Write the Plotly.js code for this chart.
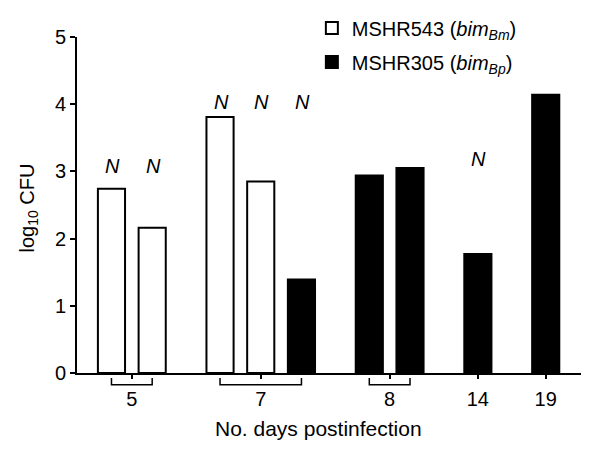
<!DOCTYPE html>
<html>
<head>
<meta charset="utf-8">
<script src="https://cdn.plot.ly/plotly-3.0.1.min.js"></script>
<style>html,body{margin:0;padding:0;background:#fff;}#chart{width:600px;height:462px;}</style>
</head>
<body>
<div id="chart"></div>
<script>
// ---- data ----
const barDay    = ['5', '5', '7', '7', '7', '8', '8', '14', '19'];
const barStrain = ['MSHR543', 'MSHR543', 'MSHR543', 'MSHR543', 'MSHR305', 'MSHR305', 'MSHR305', 'MSHR305', 'MSHR305'];
const log10CFU  = [2.74, 2.16, 3.81, 2.85, 1.39, 2.94, 3.05, 1.77, 4.14];
const nLabelY   = [3.08, 3.08, 4.04, 4.04, 4.04, null, null, 3.18, null]; // italic "N" above these bars
const dayLabels = ['5', '7', '8', '14', '19'];
const strainNames = {
  MSHR543: 'MSHR543 (<i>bim<sub>Bm</sub></i>)',
  MSHR305: 'MSHR305 (<i>bim<sub>Bp</sub></i>)'
};

// ---- layout of bar slots: bars within a day sit closer than bars of different days ----
const WITHIN = 3, BETWEEN = 5, BAR_W = 2;
const pos = [];
barDay.forEach((d, i) => {
  if (i === 0) pos.push(0);
  else pos.push(pos[i - 1] + (d === barDay[i - 1] ? WITHIN : BETWEEN));
});
const groupCenters = dayLabels.map(d => {
  const p = pos.filter((_, i) => barDay[i] === d);
  return { d, min: Math.min(...p), max: Math.max(...p), mid: (Math.min(...p) + Math.max(...p)) / 2, n: p.length };
});

function strainTrace(name, fill) {
  const idx = barStrain.map((s, i) => s === name ? i : -1).filter(i => i >= 0);
  return {
    type: 'bar',
    name: strainNames[name],
    legendgroup: name,
    x: idx.map(i => pos[i]),
    y: idx.map(i => log10CFU[i]),
    width: BAR_W,
    marker: { color: fill, line: { color: '#000', width: 2 } },
    hoverinfo: 'skip'
  };
}
const traces = [strainTrace('MSHR543', '#ffffff'), strainTrace('MSHR305', '#000000')];

const FONT = 'Liberation Sans, Arial, Helvetica, sans-serif';

const shapes = groupCenters.filter(g => g.n > 1).map(g => ({
  type: 'path', xref: 'x', yref: 'paper',
  path: `M ${g.min},-0.015 L ${g.min},-0.035 L ${g.max},-0.035 L ${g.max},-0.015`,
  line: { color: '#000', width: 1.5 }
}));

const annotations = [];
nLabelY.forEach((v, i) => {
  if (v !== null) annotations.push({
    x: pos[i], y: v, xref: 'x', yref: 'y', text: '<i>N</i>', showarrow: false,
    xshift: 1, font: { family: FONT, size: 20, color: '#000' }
  });
});
annotations.push({
  text: 'No. days postinfection', xref: 'paper', yref: 'paper', x: 0.48, y: -0.166,
  xanchor: 'center', yanchor: 'middle', showarrow: false, font: { family: FONT, size: 21, color: '#000' }
});
annotations.push({
  text: 'log<sub>10</sub> CFU', xref: 'paper', yref: 'paper', x: -0.097, y: 0.49, textangle: -90,
  xanchor: 'center', yanchor: 'middle', showarrow: false, font: { family: FONT, size: 20, color: '#000' }
});

const layout = {
  width: 600, height: 462,
  margin: { l: 77, r: 19, t: 37, b: 89, autoexpand: false },
  paper_bgcolor: '#fff', plot_bgcolor: '#fff',
  font: { family: FONT, size: 20, color: '#000' },
  barmode: 'overlay',
  showlegend: true,
  legend: {
    x: 0.466, y: 1.085, xanchor: 'left', yanchor: 'top',
    font: { family: FONT, size: 20, color: '#000' },
    bgcolor: 'rgba(0,0,0,0)', tracegroupgap: 5
  },
  xaxis: {
    range: [-2.54, 34.6],
    tickmode: 'array', tickvals: groupCenters.map(g => g.mid), ticktext: groupCenters.map(g => g.d),
    ticks: 'outside', ticklen: 4, tickwidth: 2, tickcolor: '#000',
    ticklabelstandoff: 3,
    showline: true, linewidth: 2, linecolor: '#000',
    showgrid: false, zeroline: false, fixedrange: true
  },
  yaxis: {
    range: [0, 5], tickvals: [0, 1, 2, 3, 4, 5],
    ticks: 'outside', ticklen: 5, tickwidth: 2, tickcolor: '#000',
    showline: true, linewidth: 2, linecolor: '#000',
    showgrid: false, zeroline: false, fixedrange: true
  },
  shapes, annotations
};

Plotly.newPlot('chart', traces, layout, { staticPlot: true, displayModeBar: false });
</script>
</body>
</html>
